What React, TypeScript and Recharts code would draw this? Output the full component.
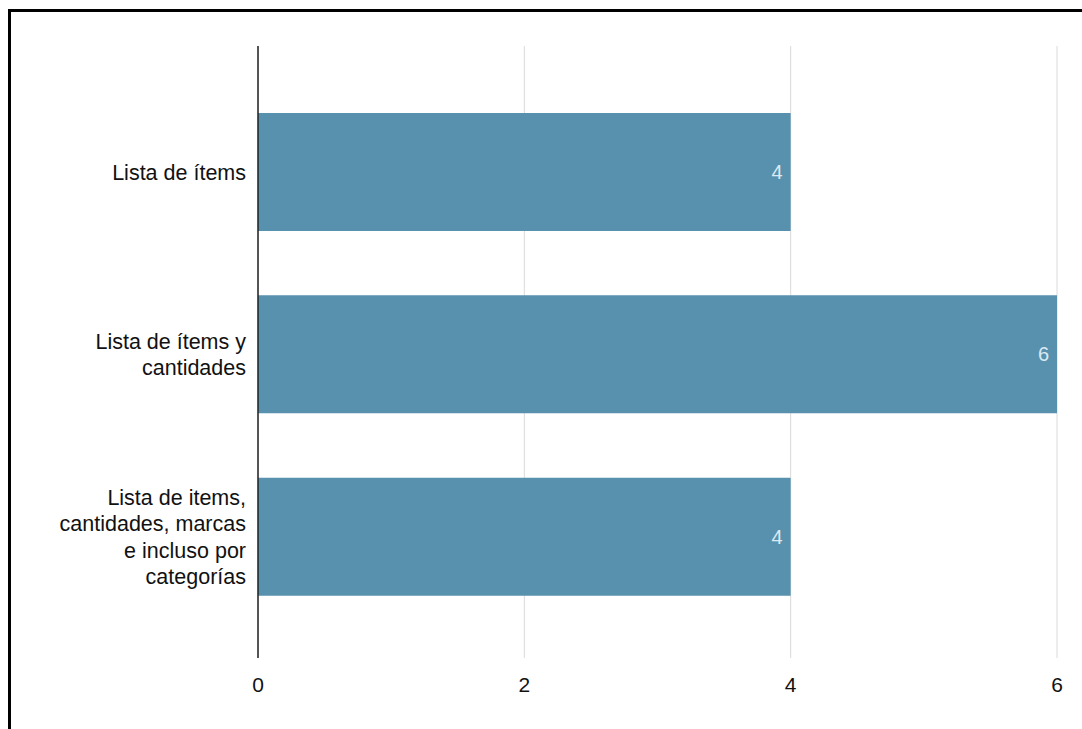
import React from 'react';
import {
	BarChart,
	Bar,
	XAxis,
	YAxis,
	CartesianGrid,
	ReferenceLine,
	LabelList,
} from 'recharts';

// Categorías y cantidad de respuestas
const categories = [
	'Lista de ítems',
	'Lista de ítems y cantidades',
	'Lista de items, cantidades, marcas e incluso por categorías',
];
const counts = [4, 6, 4];

// Etiquetas del eje vertical, partidas en líneas
const categoryLines = [
	['Lista de ítems'],
	['Lista de ítems y', 'cantidades'],
	['Lista de items,', 'cantidades, marcas', 'e incluso por', 'categorías'],
];

const xTicks = [0, 2, 4, 6];

const data = categories.map((name, i) => ({ name, value: counts[i] }));

const FONT = '"Liberation Sans", Arial, sans-serif';
const LINE_HEIGHT = 26.5;

const CategoryTick = (props: any) => {
	const { x, y, payload } = props;
	const idx = categories.indexOf(payload.value);
	const lines = categoryLines[idx] || [payload.value];
	const firstY = y - ((lines.length - 1) * LINE_HEIGHT) / 2 + 7.5;
	return (
		<text
			x={x}
			y={firstY}
			textAnchor="end"
			fontSize={21.5}
			fontFamily={FONT}
			fill="#111"
		>
			{lines.map((line: string, i: number) => (
				<tspan key={i} x={x} y={firstY + i * LINE_HEIGHT}>
					{line}
				</tspan>
			))}
		</text>
	);
};

const App: React.FC = () => {
	return (
		<div>
			<div
				style={{
					position: 'absolute',
					left: 8,
					top: 9,
					width: 1074,
					height: 720,
					borderTop: '3px solid #000',
					borderLeft: '3px solid #000',
					boxSizing: 'border-box',
				}}
			/>
			<div style={{ position: 'absolute', left: 0, top: 0 }}>
				<BarChart
					width={1082}
					height={729}
					data={data}
					layout="vertical"
					margin={{ top: 46, right: 25, bottom: 31, left: 0 }}
				>
					<CartesianGrid horizontal={false} stroke="#dadada" />
					<XAxis
						type="number"
						domain={[0, 6]}
						ticks={xTicks}
						axisLine={false}
						tickLine={false}
						tickSize={0}
						tickMargin={19}
						height={40}
						tick={{ fontSize: 21, fill: '#111', fontFamily: FONT }}
					/>
					<YAxis
						type="category"
						dataKey="name"
						width={258}
						axisLine={false}
						tickLine={false}
						tickSize={0}
						tickMargin={12}
						padding={{ top: 35, bottom: 30 }}
						tick={<CategoryTick />}
					/>
					<Bar
						dataKey="value"
						fill="#5891ae"
						barSize={118}
						isAnimationActive={false}
					>
						<LabelList
							dataKey="value"
							position="insideRight"
							offset={8}
							fill="#dbe9f3"
							fontSize={20}
							fontFamily={FONT}
						/>
					</Bar>
					<ReferenceLine x={0} stroke="#222" strokeWidth={1.5} />
				</BarChart>
			</div>
		</div>
	);
};

export default App;
